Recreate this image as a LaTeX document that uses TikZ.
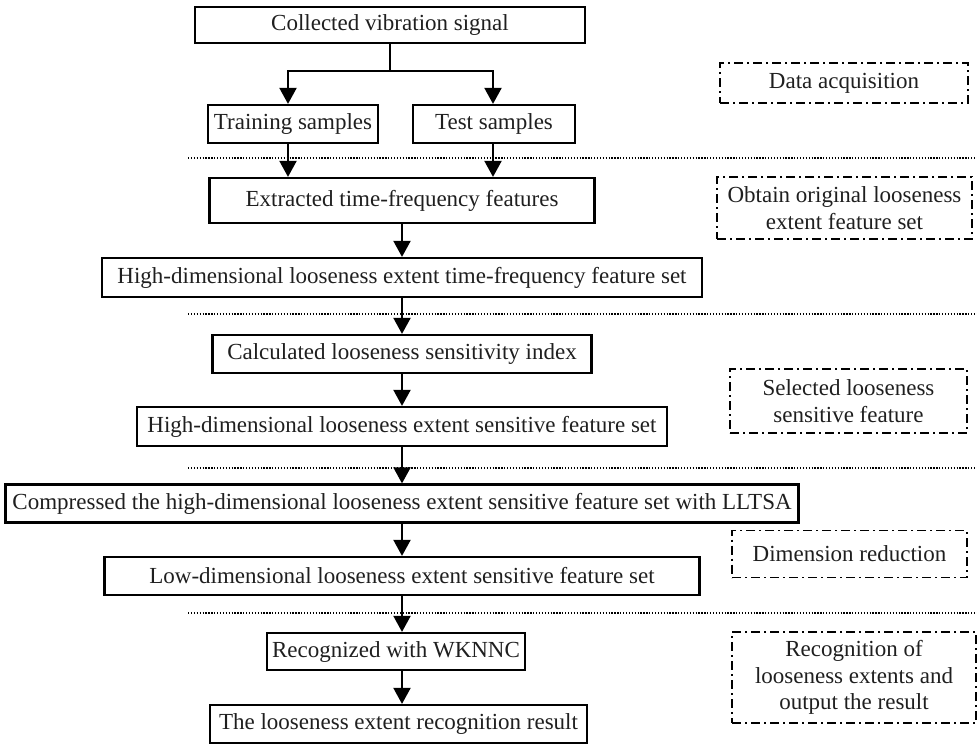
\documentclass[tikz,border=0pt]{standalone}
\usepackage{fontspec}
\setmainfont{Liberation Serif}
\usetikzlibrary{arrows.meta,calc}
\begin{document}
\begin{tikzpicture}[x=1pt,y=1pt,
  box/.style={draw, line width=2.2pt, inner sep=0pt, font=\fontsize{23}{26.5}\selectfont, text=black!88},
  note/.style={draw, line width=1.8pt, dash pattern=on 9pt off 4pt on 2pt off 4pt, inner sep=0pt, align=center, font=\fontsize{23}{26.5}\selectfont, text=black!88},
  sep/.style={line width=1.4pt, dash pattern=on 1.3pt off 1.6pt},
  conn/.style={line width=2pt},
  arr/.style={line width=2pt, -{Triangle[width=17pt,length=16pt]}},
]
\useasboundingbox (0,0) rectangle (977,-745);

% main column
\node[box, minimum width=390, minimum height=36] (b1) at (390,-25) {Collected vibration signal};
\node[box, minimum width=170, minimum height=38] (train) at (293,-124) {Training samples};
\node[box, minimum width=162, minimum height=38] (test) at (494,-124) {Test samples};
\node[box, minimum width=385, minimum height=45] (ext) at (402,-200.5) {Extracted time-frequency features};
\node[box, minimum width=600, minimum height=39] (hdtf) at (402,-277.5) {High-dimensional looseness extent time-frequency feature set};
\node[box, minimum width=379, minimum height=38] (calc) at (402,-354) {Calculated looseness sensitivity index};
\node[box, minimum width=530, minimum height=39] (hds) at (402,-426.5) {High-dimensional looseness extent sensitive feature set};
\node[box, minimum width=793, minimum height=38] (comp) at (402,-503.5) {Compressed the high-dimensional looseness extent sensitive feature set with LLTSA};
\node[box, minimum width=595, minimum height=38] (low) at (402,-576) {Low-dimensional looseness extent sensitive feature set};
\node[box, minimum width=258, minimum height=37] (rec) at (396,-651.5) {Recognized with WKNNC};
\node[box, minimum width=377, minimum height=38] (res) at (398.5,-724) {The looseness extent recognition result};

% stage notes
\node[note, minimum width=248, minimum height=40] (da) at (844,-83) {Data acquisition};
\node[note, minimum width=255, minimum height=62] (obt) at (844.5,-208) {Obtain original looseness\\extent feature set};
\node[note, minimum width=237, minimum height=64] (sel) at (848.5,-401) {Selected looseness\\sensitive feature};
\node[note, minimum width=235, minimum height=47] (dim) at (849.5,-554) {Dimension reduction};
\node[note, minimum width=244, minimum height=91] (rcg) at (854,-677.5) {Recognition of\\looseness extents and\\output the result};

% separators
\coordinate (s1l) at (188,-158); \coordinate (s1r) at (977,-158);
\coordinate (s2l) at (188,-314); \coordinate (s2r) at (977,-314);
\coordinate (s3l) at (188,-468); \coordinate (s3r) at (977,-468);
\coordinate (s4l) at (188,-613); \coordinate (s4r) at (977,-613);
\draw[sep] (s1l) -- (s1r);
\draw[sep] (s2l) -- (s2r);
\draw[sep] (s3l) -- (s3r);
\draw[sep] (s4l) -- (s4r);

% connectors
\draw[conn] (b1.south) -- ++(0,-27) coordinate (jn);
\draw[arr] (jn) -| ([xshift=-5]train.north);
\draw[arr] (jn) -| ([xshift=-1]test.north);
\draw[arr] ([xshift=-5]train.south) -- ([xshift=-5]train.south |- ext.north);
\draw[arr] ([xshift=-1]test.south) -- ([xshift=-1]test.south |- ext.north);
\draw[arr] (ext.south) -- (hdtf.north);
\draw[arr] (hdtf.south) -- (calc.north);
\draw[arr] (calc.south) -- (hds.north);
\draw[arr] (hds.south) -- (comp.north);
\draw[arr] (comp.south) -- (low.north);
\draw[arr] (low.south) -- (low.south |- rec.north);
\draw[arr] (rec.south -| low.south) -- (res.north -| low.south);
\end{tikzpicture}
\end{document}
